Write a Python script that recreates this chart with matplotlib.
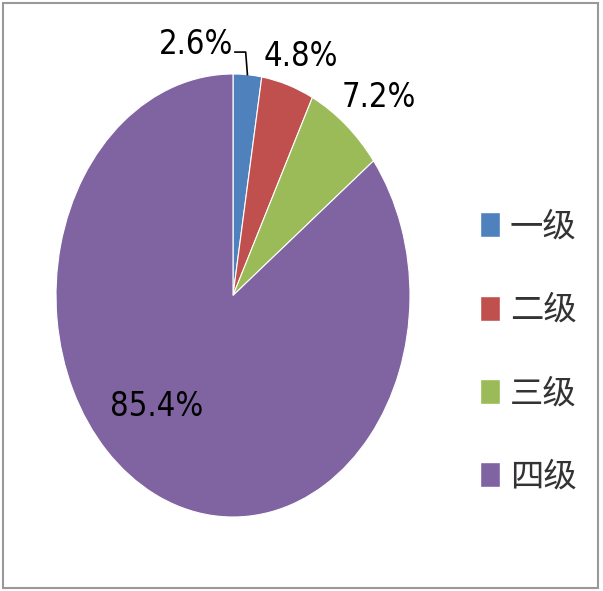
import numpy as np
import matplotlib.pyplot as plt
from matplotlib.patches import Rectangle, Patch

labels = ["一级", "二级", "三级", "四级"]
values = [2.6, 4.8, 7.2, 85.4]
pct_labels = ["2.6%", "4.8%", "7.2%", "85.4%"]
colors = ["#4F81BD", "#C0504D", "#9BBB59", "#8064A2"]

# label positions in data units (x: 1 unit = radius horizontally, y: radius vertically)
label_pos = [(-0.21, 1.135), (0.385, 1.077), (0.825, 0.896), (-0.43, -0.50)]

fig = plt.figure(figsize=(6.03, 5.91), dpi=100)
ax = fig.add_axes([56 / 603, 1 - 517 / 591, 354 / 603, 443 / 591])

wedges, _ = ax.pie(values, colors=colors, startangle=90, counterclock=False,
                   wedgeprops=dict(edgecolor="white", linewidth=0.8))
ax.set_aspect('auto')
ax.set_xlim(-1, 1)
ax.set_ylim(-1, 1)

for (x, y), t in zip(label_pos, pct_labels):
    ax.text(x, y, t, ha="center", va="center", fontsize=23.5, color="black",
            family="DejaVu Sans", fontstretch="condensed", clip_on=False)

# leader line for the smallest slice
mid = np.deg2rad(values[0] / 2 / 100 * 360)
ex, ey = np.sin(mid), np.cos(mid)
ax.plot([ex, ex - 0.01, 0.011], [ey, 1.099, 1.099], color="black", lw=1.2,
        clip_on=False)

handles = [Patch(facecolor=c, edgecolor="white") for c in colors]
leg = fig.legend(handles, labels, loc="center left", bbox_to_anchor=(450 / 603, 1 - 352 / 591),
                 frameon=False, handlelength=0.6, handleheight=0.78, handletextpad=0.3,
                 labelspacing=1.45,
                 prop={"family": ["Noto Sans CJK SC", "DejaVu Sans"], "size": 24})
for t in leg.get_texts():
    t.set_color("#333333")

fig.patches.append(Rectangle((3 / 603, 3 / 591), 595 / 603, 585 / 591, transform=fig.transFigure,
                             fill=False, edgecolor="#999999", linewidth=1.5))

fig.savefig("out.png", dpi=100)
